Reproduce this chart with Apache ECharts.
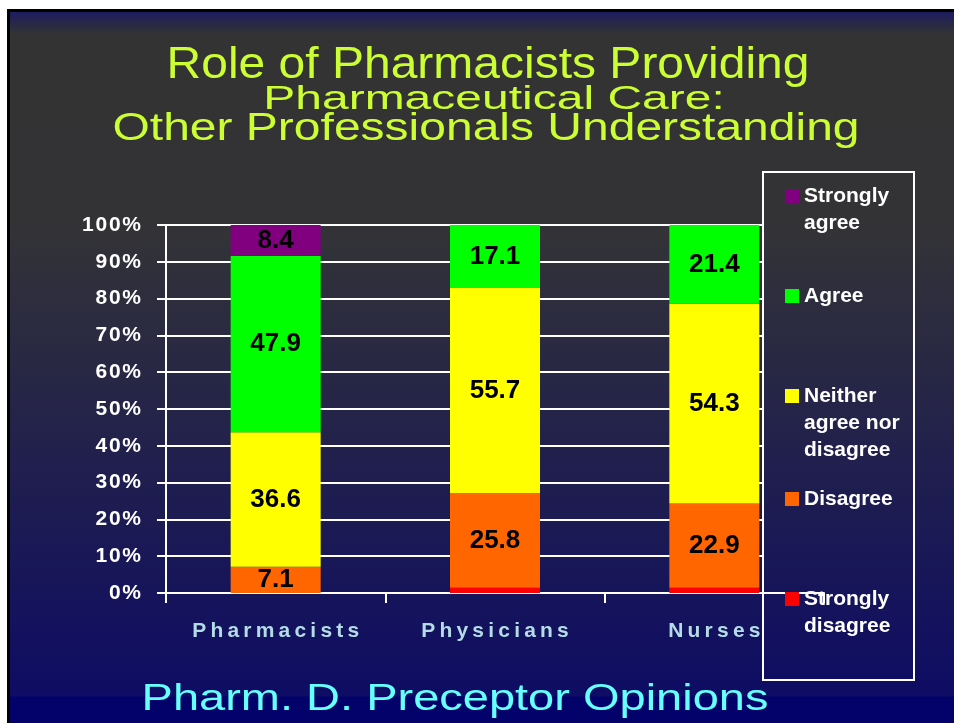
<!DOCTYPE html>
<html>
<head>
<meta charset="utf-8">
<title>Role of Pharmacists Providing Pharmaceutical Care</title>
<script src="https://cdn.jsdelivr.net/npm/echarts@6/dist/echarts.min.js"></script>
<style>
  html, body { margin: 0; padding: 0; background: #ffffff; }
  #chart { width: 954px; height: 723px; }
</style>
</head>
<body>
<div id="chart"></div>
<script>
// data
const categories = ["Pharmacists", "Physicians", "Nurses"];
const seriesNames = ["Strongly disagree", "Disagree", "Neither agree nor disagree", "Agree", "Strongly agree"];
const stronglyDisagree = [0, 1.4, 1.4];
const disagree = [7.1, 25.8, 22.9];
const neither = [36.6, 55.7, 54.3];
const agree = [47.9, 17.1, 21.4];
const stronglyAgree = [8.4, 0, 0];
const legendLabels = ["Strongly\ndisagree", "Disagree", "Neither\nagree nor\ndisagree", "Agree", "Strongly\nagree"];

const colors = ["#ff0000", "#ff6600", "#ffff00", "#00ff00", "#800080"];
const font = "'Liberation Sans', Arial, sans-serif";
const thin = "\u2009";
const hair = "\u200a";

const bgFill = {
  type: "linear", x: 0, y: 0, x2: 0, y2: 723, global: true,
  colorStops: [
    { offset: 0, color: "#15155e" },
    { offset: 12 / 723, color: "#1c1c60" },
    { offset: 34 / 723, color: "#333333" },
    { offset: 230 / 723, color: "#333337" },
    { offset: 696 / 723, color: "#0e0c64" },
    { offset: 697 / 723, color: "#02026a" },
    { offset: 1, color: "#02026a" },
  ],
};

let chart = echarts.init(document.getElementById("chart"));

let allValues = [stronglyDisagree, disagree, neither, agree, stronglyAgree];
let series = allValues.map((vals, i) => {
  return {
    name: seriesNames[i],
    type: "bar",
    stack: "total",
    barWidth: 90,
    z: 3,
    itemStyle: { color: colors[i] },
    label: {
      show: true,
      position: "inside",
      color: "#000000",
      fontFamily: font,
      fontWeight: "bold",
      fontSize: 26,
      formatter: (p) => (p.value >= 5 ? p.value.toFixed(1) : ""),
    },
    emphasis: { disabled: true },
    data: vals,
  };
});

// one legend per entry so each marker sits at its own spot in the box.
// blank lines on top keep the first text line level with the marker
let legendCenters = [599, 499, 396, 296, 196];
let lineH = 27;
let legends = seriesNames.map((name, i) => {
  let lines = legendLabels[i].split("\n");
  let n = lines.length;
  let padded = new Array(n - 1).fill(" ").concat(lines).join("\n");
  let h = (2 * n - 1) * lineH;
  return {
    data: [name],
    left: 785,
    top: legendCenters[i] - h / 2,
    padding: 0,
    z: 4,
    itemWidth: 14,
    itemHeight: 14,
    icon: "rect",
    selectedMode: false,
    formatter: () => padded,
    textStyle: {
      color: "#ffffff",
      fontFamily: font,
      fontWeight: "bold",
      fontSize: 21,
      lineHeight: lineH,
    },
  };
});

// thin outline in the backdrop colour makes the glyphs look lighter
function titleLine(text, x, y, sy, size, color, bg) {
  return {
    type: "text",
    x: x,
    y: y,
    scaleY: sy,
    z: 5,
    style: {
      text: text,
      x: 0,
      y: 0,
      align: "center",
      verticalAlign: "middle",
      fill: color,
      stroke: bg,
      lineWidth: 1.4,
      font: "normal " + size + "px " + font,
    },
  };
}

let option = {
  animation: false,
  backgroundColor: "transparent",
  grid: { left: 166, right: 130, top: 225, bottom: 130 },
  xAxis: {
    type: "category",
    data: categories,
    z: 2,
    axisLine: { show: true, lineStyle: { color: "#ffffff", width: 2 } },
    axisTick: { show: true, length: 10, lineStyle: { color: "#ffffff", width: 2 } },
    axisLabel: {
      color: "#b4dce6",
      fontFamily: font,
      fontWeight: "bold",
      fontSize: 21,
      margin: 28,
      formatter: (v) => v.split("").join(thin),
    },
    splitLine: { show: false },
  },
  yAxis: {
    type: "value",
    min: 0,
    max: 100,
    interval: 10,
    z: 0,
    axisLine: { show: true, lineStyle: { color: "#ffffff", width: 2 } },
    axisTick: { show: true, length: 9, lineStyle: { color: "#ffffff", width: 2 } },
    axisLabel: {
      color: "#ffffff",
      fontFamily: font,
      fontWeight: "bold",
      fontSize: 21,
      margin: 25,
      formatter: (v) => (v + "%").split("").join(hair),
    },
    splitLine: { show: true, lineStyle: { color: "#ffffff", width: 2 } },
  },
  legend: legends,
  series: series,
  graphic: [
    { type: "rect", z: -10, shape: { x: 7, y: 9, width: 947, height: 714 }, style: { fill: "#000000" } },
    { type: "rect", z: -9, shape: { x: 10, y: 12, width: 944, height: 711 }, style: { fill: bgFill } },
    // legend box covers the right end of the grid
    {
      type: "rect", z: 1,
      shape: { x: 763, y: 172, width: 151, height: 508 },
      style: { fill: bgFill, stroke: "#ffffff", lineWidth: 2 },
    },
    titleLine("Role of Pharmacists Providing", 488, 66, 0.93, 48, "#ccff33", "#333333"),
    titleLine("Pharmaceutical Care:", 494, 100, 0.7, 48, "#ccff33", "#333333"),
    titleLine("Other Professionals Understanding", 486, 129, 0.81, 48, "#ccff33", "#333333"),
    titleLine("Pharm. D. Preceptor Opinions", 455, 700, 0.8, 47, "#66ffff", "#0c0b66"),
  ],
};

chart.setOption(option);
</script>
</body>
</html>
